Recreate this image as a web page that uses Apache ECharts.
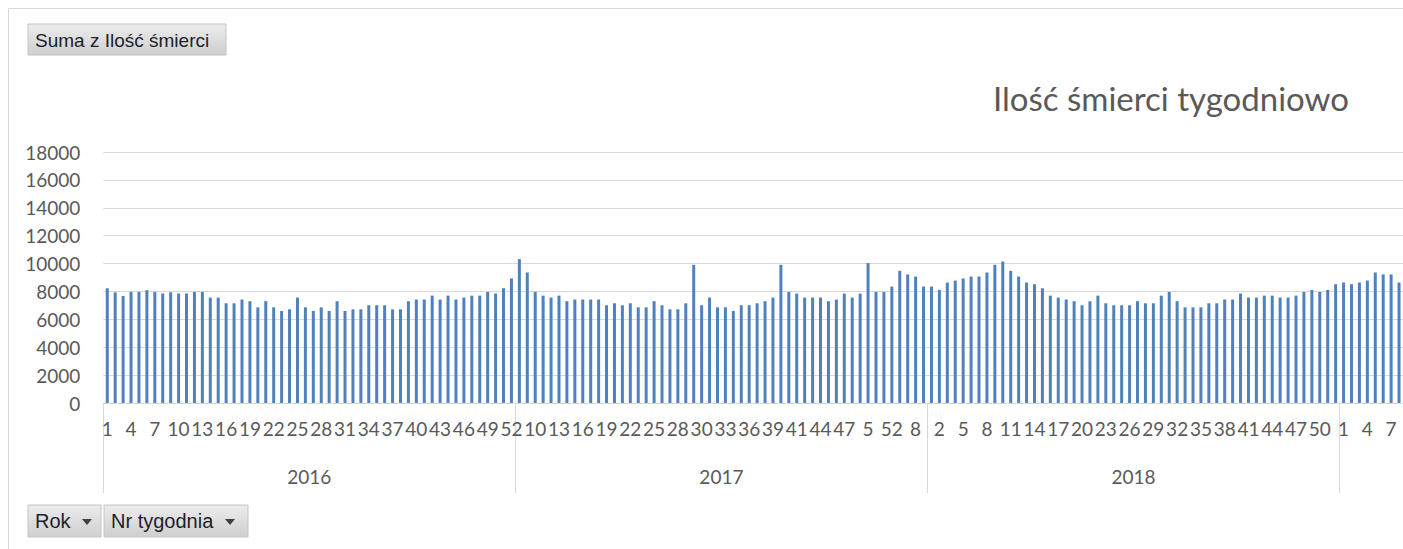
<!DOCTYPE html>
<html>
<head>
<meta charset="utf-8">
<title>Ilość śmierci tygodniowo</title>
<script src="https://cdn.jsdelivr.net/npm/echarts@6/dist/echarts.min.js"></script>
<style>
  html, body { margin: 0; padding: 0; background: #fff; }
  #chart { width: 1403px; height: 549px; }
</style>
</head>
<body>
<div id="chart"></div>
<script>
  // tygodnie (kolejność jak w tabeli przestawnej)
  const years = ['2016', '2017', '2018', '2019']
  const weeks2016 = [1, 2, 3, 4, 5, 6, 7, 8, 9, 10, 11, 12, 13, 14, 15, 16, 17, 18, 19, 20, 21, 22, 23, 24, 25, 26,
    27, 28, 29, 30, 31, 32, 33, 34, 35, 36, 37, 38, 39, 40, 41, 42, 43, 44, 45, 46, 47, 48, 49, 50, 51, 52]
  const weeks2017 = [1, 2, 10, 11, 12, 13, 14, 15, 16, 17, 18, 19, 20, 21, 22, 23, 24, 25, 26, 27, 28, 29, 3,
    30, 31, 32, 33, 34, 35, 36, 37, 38, 39, 4, 40, 41, 42, 43, 44, 45, 46, 47, 48, 49, 5, 50, 51, 52, 6, 7, 8, 9]
  const weeks2018 = [1, 2, 3, 4, 5, 6, 7, 8, 9, 10, 11, 12, 13, 14, 15, 16, 17, 18, 19, 20, 21, 22, 23, 24, 25, 26,
    27, 28, 29, 30, 31, 32, 33, 34, 35, 36, 37, 38, 39, 40, 41, 42, 43, 44, 45, 46, 47, 48, 49, 50, 51, 52]
  const weeks2019 = [1, 2, 3, 4, 5, 6, 7, 8]

  // Suma z Ilość śmierci
  const deaths2016 = [8230, 7940, 7680, 7970, 7970, 8090, 7970, 7850, 7940, 7850,
    7850, 7970, 7970, 7560, 7560, 7150, 7150, 7420, 7300, 6860,
    7300, 6860, 6600, 6720, 7560, 6860, 6600, 6860, 6600, 7300,
    6600, 6720, 6720, 7010, 7010, 7010, 6720, 6720, 7300, 7420,
    7420, 7700, 7420, 7700, 7420, 7560, 7700, 7700, 7970, 7850,
    8230, 8930]
  const deaths2017 = [10320, 9360, 7970, 7700, 7560, 7700, 7300, 7420, 7420, 7420,
    7420, 7010, 7150, 7010, 7150, 6860, 6860, 7300, 7010, 6720,
    6720, 7150, 9910, 7010, 7560, 6860, 6860, 6600, 7010, 7010,
    7150, 7300, 7560, 9910, 7970, 7850, 7560, 7560, 7560, 7300,
    7420, 7850, 7560, 7850, 10030, 7970, 7970, 8350, 9480, 9220,
    9070, 8350]
  const deaths2018 = [8350, 8110, 8640, 8780, 8930, 9070, 9070, 9360, 9910, 10150,
    9480, 9070, 8640, 8520, 8230, 7700, 7560, 7420, 7300, 7010,
    7300, 7700, 7150, 7010, 7010, 7010, 7300, 7150, 7150, 7700,
    7970, 7300, 6860, 6860, 6860, 7150, 7150, 7420, 7420, 7850,
    7560, 7560, 7700, 7700, 7560, 7560, 7700, 7970, 8110, 7970,
    8110, 8520]
  const deaths2019 = [8640, 8520, 8640, 8780, 9360, 9220, 9220, 8640]

  const yTicks = [0, 2000, 4000, 6000, 8000, 10000, 12000, 14000, 16000, 18000]

  const groups = [
    [years[0], weeks2016, deaths2016],
    [years[1], weeks2017, deaths2017],
    [years[2], weeks2018, deaths2018],
    [years[3], weeks2019, deaths2019]
  ]

  const categories = []
  const values = []
  const yearStarts = []
  const yearMiddles = []
  groups.forEach(([year, weeks, deaths]) => {
    yearStarts.push(categories.length)
    if (weeks.length >= 52) yearMiddles.push(categories.length + weeks.length / 2)
    weeks.forEach((w, i) => {
      categories.push(year + '|' + w)
      values.push(deaths[i])
    })
  })

  const txt = '#595959'
  const font = 'Lato'
  const btnFill = {
    type: 'linear', x: 0, y: 0, x2: 0, y2: 1,
    colorStops: [{ offset: 0, color: '#ececec' }, { offset: 1, color: '#cfcfcf' }]
  }

  const option = {
    animation: false,
    backgroundColor: '#fff',
    grid: {
      left: 103.3,
      right: 0,
      top: 152,
      bottom: 146
    },
    xAxis: [{
      type: 'category',
      data: categories,
      position: 'bottom',
      axisLine: { lineStyle: { color: '#d9d9d9', width: 1 } },
      axisTick: { show: false },
      axisLabel: {
        interval: 2,
        margin: 16,
        fontSize: 19,
        fontFamily: font,
        color: txt,
        formatter: v => v.split('|')[1]
      }
    }, {
      type: 'category',
      data: categories,
      position: 'bottom',
      axisLine: { show: false },
      axisTick: {
        show: true,
        length: 90,
        interval: i => yearStarts.indexOf(i) >= 0,
        lineStyle: { color: '#d9d9d9' }
      },
      axisLabel: {
        interval: i => yearMiddles.indexOf(i) >= 0,
        margin: 64,
        fontSize: 19,
        fontFamily: font,
        color: txt,
        padding: [0, 8, 0, 0],
        formatter: v => v.split('|')[0]
      }
    }],
    yAxis: {
      type: 'value',
      min: yTicks[0],
      max: yTicks[yTicks.length - 1],
      interval: yTicks[1] - yTicks[0],
      axisLine: { show: false },
      axisTick: { show: false },
      splitLine: { lineStyle: { color: '#d9d9d9' } },
      axisLabel: {
        margin: 23,
        fontSize: 19,
        fontFamily: font,
        color: txt,
        formatter: v => String(v)
      }
    },
    series: [{
      name: 'Suma z Ilość śmierci',
      type: 'bar',
      data: values,
      barWidth: 3,
      itemStyle: { color: '#4f81bd' }
    }],
    graphic: [
      { type: 'rect', shape: { x: 8.5, y: 8.5, width: 1500, height: 600 },
        style: { fill: 'none', stroke: '#d9d9d9', lineWidth: 1 }, silent: true },
      { type: 'text', x: 993, y: 98,
        style: { text: 'Ilość śmierci tygodniowo', font: '33px Lato', fill: txt, verticalAlign: 'middle' } },
      { type: 'rect', shape: { x: 28, y: 24, width: 198, height: 31 },
        style: { fill: btnFill, stroke: '#c4c4c4', lineWidth: 1 } },
      { type: 'text', x: 35, y: 40,
        style: { text: 'Suma z Ilość śmierci', font: '19px "Liberation Sans"', fill: '#1e1e2a', verticalAlign: 'middle' } },
      { type: 'rect', shape: { x: 28, y: 505, width: 73, height: 32 },
        style: { fill: btnFill, stroke: '#c4c4c4', lineWidth: 1 } },
      { type: 'text', x: 35, y: 521,
        style: { text: 'Rok', font: '20px "Liberation Sans"', fill: '#1e1e2a', verticalAlign: 'middle' } },
      { type: 'polygon', shape: { points: [[82, 519], [92, 519], [87, 525]] },
        style: { fill: '#404040' } },
      { type: 'rect', shape: { x: 104, y: 505, width: 144, height: 32 },
        style: { fill: btnFill, stroke: '#c4c4c4', lineWidth: 1 } },
      { type: 'text', x: 111, y: 521,
        style: { text: 'Nr tygodnia', font: '20px "Liberation Sans"', fill: '#1e1e2a', verticalAlign: 'middle' } },
      { type: 'polygon', shape: { points: [[225, 519], [235, 519], [230, 525]] },
        style: { fill: '#404040' } }
    ]
  }

  const chart = echarts.init(document.getElementById('chart'), null, { renderer: 'svg' })
  chart.setOption(option)
  window.addEventListener('resize', () => chart.resize())
</script>
</body>
</html>
